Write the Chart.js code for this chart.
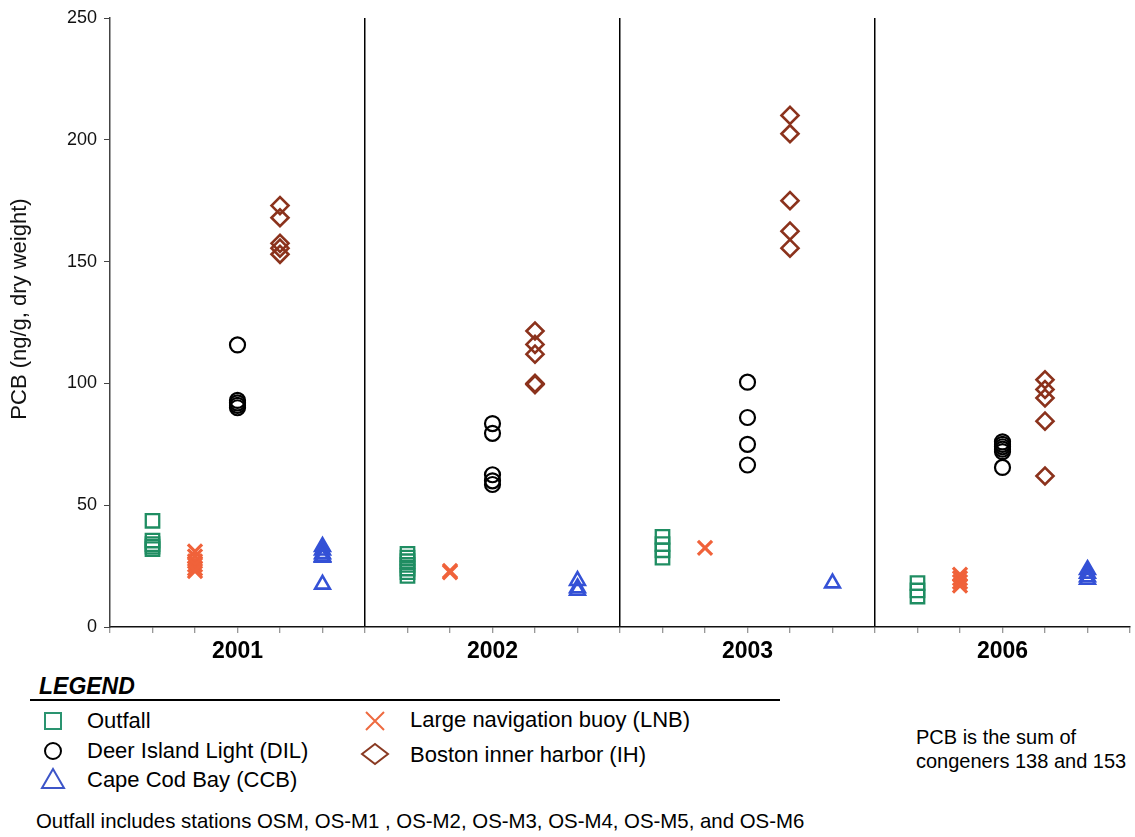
<!DOCTYPE html>
<html>
<head>
<meta charset="utf-8">
<script src="https://cdn.jsdelivr.net/npm/chart.js@4.4.1/dist/chart.umd.min.js"></script>
<style>
  html, body { margin:0; padding:0; background:#fff; }
  body { width:1135px; height:837px; position:relative; overflow:hidden; font-family:"Liberation Sans", Arial, sans-serif; color:#000; }
  #wrap { position:absolute; left:0; top:0; width:1135px; height:670px; }
  .t { position:absolute; white-space:nowrap; line-height:1; transform:translateY(-50%); }
  .ic { position:absolute; transform:translate(-50%,-50%); }
</style>
</head>
<body>
<div id="wrap"><canvas id="c" width="1135" height="670"></canvas></div>

<div class="t" style="left:39px; top:686px; font-size:23px; font-weight:bold; font-style:italic;">LEGEND</div>
<div style="position:absolute; left:30px; top:699px; width:750px; height:2px; background:#000;"></div>

<svg class="ic" style="left:53px; top:721px;" width="22" height="22"><rect x="3" y="3" width="16" height="16" fill="none" stroke="#2a9470" stroke-width="2"/></svg>
<div class="t" style="left:87px; top:721px; font-size:22px;">Outfall</div>
<svg class="ic" style="left:53px; top:751px;" width="22" height="22"><circle cx="11" cy="11" r="8" fill="none" stroke="#000" stroke-width="2"/></svg>
<div class="t" style="left:87px; top:751px; font-size:22px;">Deer Island Light (DIL)</div>
<svg class="ic" style="left:53px; top:779px;" width="26" height="24"><polygon points="13,2 24,21 2,21" fill="none" stroke="#3d55c8" stroke-width="2"/></svg>
<div class="t" style="left:87px; top:780px; font-size:22px;">Cape Cod Bay (CCB)</div>

<svg class="ic" style="left:375px; top:721px;" width="24" height="24"><path d="M3,3 L21,21 M21,3 L3,21" stroke="#ee6a40" stroke-width="2"/></svg>
<div class="t" style="left:410px; top:720px; font-size:22px;">Large navigation buoy (LNB)</div>
<svg class="ic" style="left:375px; top:754px;" width="30" height="24"><polygon points="2,12 15,2 28,12 15,22" fill="none" stroke="#8a3a22" stroke-width="2"/></svg>
<div class="t" style="left:410px; top:755px; font-size:22px;">Boston inner harbor (IH)</div>

<div class="t" style="left:916px; top:737px; font-size:20px;">PCB is the sum of</div>
<div class="t" style="left:916px; top:761px; font-size:20px;">congeners 138 and 153</div>

<div class="t" style="left:36px; top:821px; font-size:20.4px;">Outfall includes stations OSM, OS-M1 , OS-M2, OS-M3, OS-M4, OS-M5, and OS-M6</div>

<script>
// ---- data ----
const years = ['2001', '2002', '2003', '2006'];
const yTicks = [0, 50, 100, 150, 200, 250];
const yTitle = 'PCB (ng/g, dry weight)';

// one sub-array per year
const outfall = [
  [43.6, 35.5, 34, 33, 32],
  [30, 28.5, 27, 25.5, 24, 22.5, 21],
  [37, 34, 31.5, 28.5],
  [18, 15, 12.5]
];
const lnb = [
  [31, 29, 27, 25.5, 24, 23],
  [23, 22.5],
  [32.5],
  [21.5, 20, 18.5, 17]
];
const dil = [
  [115.8, 93, 92, 91, 90],
  [83.5, 79.5, 62.5, 60, 58.5],
  [100.5, 86, 75, 66.5],
  [76, 75, 74, 73, 72, 65.5]
];
const ih = [
  [173, 168, 157.5, 155.5, 153],
  [121.5, 116, 112, 100, 99.5],
  [210, 202.5, 175, 162.5, 155.5],
  [101.5, 97.5, 94, 84.5, 62]
];
const ccb = [
  [33, 31.5, 30, 29, 28.5, 17.5],
  [19, 16, 15],
  [18],
  [23.5, 22, 20.5, 19.5]
];

const groupWidth = 6;
function toPoints(arr, slot) {
  const pts = [];
  arr.forEach((vals, g) => vals.forEach(v => pts.push({ x: g * groupWidth + slot, y: v })));
  return pts;
}

const labelAt = {};
years.forEach((y, i) => { labelAt[i * groupWidth + 3] = y; });
const separators = years.slice(1).map((_, i) => (i + 1) * groupWidth);

const FONT = '"Liberation Sans", Arial, sans-serif';

const yTitlePlugin = {
  id: 'yTitle',
  afterDraw(chart) {
    const ctx = chart.ctx;
    ctx.save();
    ctx.translate(20, 309);
    ctx.rotate(-Math.PI / 2);
    ctx.font = '22px ' + FONT;
    ctx.fillStyle = '#111';
    ctx.textAlign = 'center';
    ctx.textBaseline = 'middle';
    ctx.fillText(yTitle, 0, 0);
    ctx.restore();
  }
};

new Chart(document.getElementById('c'), {
  type: 'scatter',
  plugins: [yTitlePlugin],
  data: {
    datasets: [
      { label: 'Outfall', data: toPoints(outfall, 1), pointStyle: 'rect', pointRadius: 9.5, borderColor: '#1f8d62', backgroundColor: 'rgba(0,0,0,0)', borderWidth: 2.3 },
      { label: 'Large navigation buoy (LNB)', data: toPoints(lnb, 2), pointStyle: 'crossRot', pointRadius: 10, borderColor: '#f0623a', backgroundColor: 'rgba(0,0,0,0)', borderWidth: 3.2 },
      { label: 'Deer Island Light (DIL)', data: toPoints(dil, 3), pointStyle: 'circle', pointRadius: 7.5, borderColor: '#000', backgroundColor: 'rgba(0,0,0,0)', borderWidth: 2.2 },
      { label: 'Boston inner harbor (IH)', data: toPoints(ih, 4), pointStyle: 'rectRot', pointRadius: 8.5, borderColor: '#8b321c', backgroundColor: 'rgba(0,0,0,0)', borderWidth: 2.6 },
      { label: 'Cape Cod Bay (CCB)', data: toPoints(ccb, 5), pointStyle: 'triangle', pointRadius: 8.5, borderColor: '#3451d6', backgroundColor: 'rgba(0,0,0,0)', borderWidth: 2.6 }
    ]
  },
  options: {
    responsive: false,
    animation: false,
    events: [],
    layout: { autoPadding: false, padding: { top: 18, right: 5, left: 0, bottom: 0 } },
    plugins: { legend: { display: false }, tooltip: { enabled: false } },
    scales: {
      x: {
        type: 'linear', min: 0, max: years.length * groupWidth,
        afterFit: s => { s.height = 43; s.paddingRight = 0; s.paddingLeft = 0; },
        afterBuildTicks: s => { s.ticks = Array.from({ length: years.length * groupWidth + 1 }, (_, i) => ({ value: i })); },
        border: { color: '#111', width: 1.5 },
        grid: {
          drawOnChartArea: true,
          color: c => separators.includes(c.tick && c.tick.value) ? '#000' : 'rgba(0,0,0,0)',
          lineWidth: 1.5,
          tickLength: 6,
          tickColor: '#777',
          tickWidth: 1
        },
        ticks: {
          autoSkip: false, maxRotation: 0, minRotation: 0, padding: 5,
          color: '#000',
          font: { family: FONT, size: 23, weight: 'bold' },
          callback: v => labelAt[v] || ''
        }
      },
      y: {
        min: 0, max: 250,
        afterFit: s => { s.width = 110; },
        afterBuildTicks: s => { s.ticks = yTicks.map(v => ({ value: v })); },
        border: { color: '#444', width: 1.5 },
        grid: { drawOnChartArea: false, tickLength: 6, color: '#444', tickWidth: 1 },
        ticks: { padding: 7, color: '#111', font: { family: FONT, size: 18 } }
      }
    }
  }
});
</script>
</body>
</html>
